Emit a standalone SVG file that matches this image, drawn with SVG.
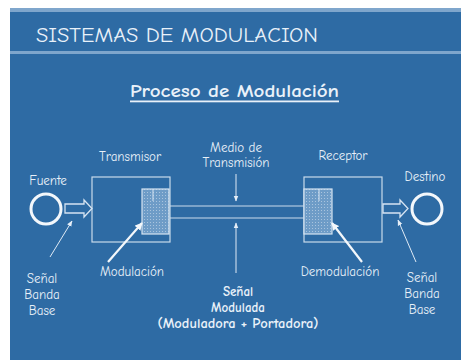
<svg xmlns="http://www.w3.org/2000/svg" width="461" height="360" viewBox="0 0 461 360">
<defs>
<style>
.t{font-family:"Comic Neue","DejaVu Sans","Liberation Sans",sans-serif;fill:#e9f1f9}
.s{font-size:13px}
.b{font-weight:bold}
.box{fill:none;stroke:#c9dbec;stroke-width:1.2}
.blk{fill:url(#hatch);stroke:#d6e4f2;stroke-width:1.2}
.ch{stroke:#c9dbec;stroke-width:1.2;fill:none}
.ptr{stroke:#dfeaf5;stroke-width:1;fill:none}
.ptrb{stroke:#f3f7fb;stroke-width:2.2;fill:none}
.harrow{fill:none;stroke:#d6e4f2;stroke-width:1.3}
</style>
<pattern id="hatch" width="3" height="3" patternUnits="userSpaceOnUse">
<rect width="3" height="3" fill="#6e9cc7"/>
<rect width="1" height="1" fill="#a9c4de"/>
</pattern>
<marker id="ah" viewBox="0 0 10 10" refX="9" refY="5" markerWidth="3.5" markerHeight="3.5" orient="auto">
<path d="M0,0 L10,5 L0,10 z" fill="#f3f7fb"/>
</marker>
<marker id="ahs" viewBox="0 0 10 10" refX="9" refY="5" markerWidth="6" markerHeight="6" orient="auto">
<path d="M0,1 L10,5 L0,9 z" fill="#e6eef7"/>
</marker>
</defs>
<rect width="461" height="360" fill="#ffffff"/>
<rect x="10" y="8" width="451" height="352" fill="#2e6ba4"/>
<rect x="10" y="8" width="451" height="4" fill="#7fa6cc"/>
<rect x="10" y="51" width="451" height="3" fill="#7fa6cc"/>
<text class="t" x="36" y="42" font-size="21" textLength="282" lengthAdjust="spacingAndGlyphs">SISTEMAS DE MODULACION</text>
<text class="t b" x="234.5" y="97" font-size="17" text-anchor="middle" textLength="209" lengthAdjust="spacingAndGlyphs">Proceso de Modulación</text>
<rect x="130" y="100.5" width="209" height="1.8" fill="#e9f1f9"/>

<g id="fuente">
<circle cx="46" cy="209" r="15" fill="none" stroke="#f3f7fb" stroke-width="3"/>
<text class="t s" x="48" y="185" text-anchor="middle">Fuente</text>
</g>
<g id="transmisor">
<rect class="box" x="92" y="177" width="78" height="65"/>
<text class="t s" x="130" y="161" text-anchor="middle">Transmisor</text>
</g>
<g id="modulacion">
<rect class="blk" x="142" y="189" width="27" height="45"/>
<line x1="153" y1="189" x2="153" y2="201" stroke="#d6e4f2" stroke-width="1"/>
<text class="t s" x="132" y="276" text-anchor="middle">Modulación</text>
</g>
<g id="receptor">
<rect class="box" x="304" y="177" width="78" height="65"/>
<text class="t s" x="343" y="160" text-anchor="middle">Receptor</text>
</g>
<g id="demodulacion">
<rect class="blk" x="304" y="189" width="28" height="45"/>
<line x1="319" y1="189" x2="319" y2="201" stroke="#d6e4f2" stroke-width="1"/>
<text class="t s" x="340" y="276" text-anchor="middle">Demodulación</text>
</g>
<g id="destino">
<circle cx="427" cy="209" r="15" fill="none" stroke="#f3f7fb" stroke-width="3"/>
<text class="t s" x="425" y="181" text-anchor="middle">Destino</text>
</g>
<g id="medio">
<text class="t s" x="236" y="152" text-anchor="middle">Medio de</text>
<text class="t s" x="236" y="167" text-anchor="middle">Transmisión</text>
</g>
<g id="senal-banda-base-izq">
<text class="t s" x="42" y="283" text-anchor="middle">Señal</text>
<text class="t s" x="42" y="299" text-anchor="middle">Banda</text>
<text class="t s" x="42" y="315" text-anchor="middle">Base</text>
</g>
<g id="senal-banda-base-der">
<text class="t s" x="422" y="282" text-anchor="middle">Señal</text>
<text class="t s" x="422" y="298" text-anchor="middle">Banda</text>
<text class="t s" x="422" y="314" text-anchor="middle">Base</text>
</g>
<g id="senal-modulada">
<text class="t s b" x="238" y="296" text-anchor="middle">Señal</text>
<text class="t s b" x="238" y="312" text-anchor="middle">Modulada</text>
<text class="t s b" x="238" y="328" text-anchor="middle" textLength="161" lengthAdjust="spacingAndGlyphs">(Moduladora + Portadora)</text>
</g>

<g id="connectors">
<line class="ch" x1="170" y1="206" x2="304" y2="206"/>
<line class="ch" x1="170" y1="218" x2="304" y2="218"/>
<path class="harrow" d="M65,204 H84 V200 L92,208.5 L84,217 V213 H65 Z"/>
<path class="harrow" d="M383,204 H400 V200 L408,208.5 L400,217 V213 H383 Z"/>
<line class="ptr" x1="236" y1="174" x2="236" y2="201" marker-end="url(#ahs)"/>
<line class="ptr" x1="236" y1="273" x2="236" y2="223" marker-end="url(#ahs)"/>
<line class="ptr" x1="50" y1="257" x2="72" y2="221" marker-end="url(#ahs)"/>
<line class="ptr" x1="416" y1="262" x2="398" y2="220" marker-end="url(#ahs)"/>
<line class="ptrb" x1="108" y1="262" x2="142" y2="223" marker-end="url(#ah)"/>
<line class="ptrb" x1="362" y1="262" x2="332" y2="223" marker-end="url(#ah)"/>
</g>
</svg>
